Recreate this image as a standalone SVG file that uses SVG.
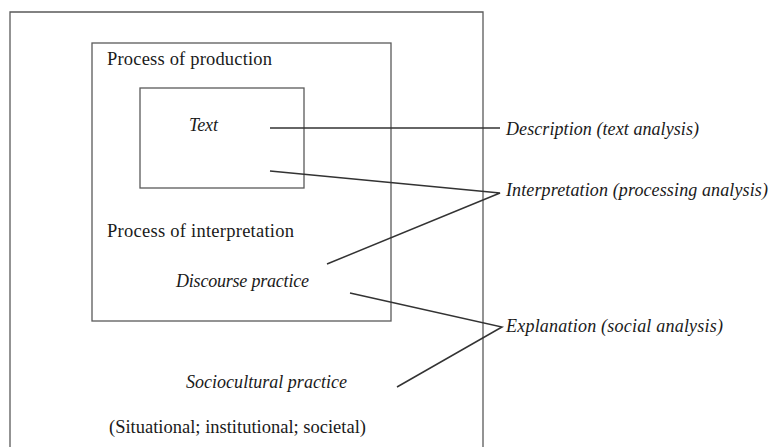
<svg xmlns="http://www.w3.org/2000/svg" width="769" height="447" viewBox="0 0 769 447">
<style>
.box{fill:none;stroke:#5a5a5a;stroke-width:1.3}
.t{font-family:"Liberation Serif","Times New Roman",serif;font-size:18.5px;fill:#1a1a1a}
.i{font-family:"Liberation Serif","Times New Roman",serif;font-size:18px;font-style:italic;fill:#1a1a1a}
.c{fill:none;stroke:#333;stroke-width:1.5}
</style>
<rect width="769" height="447" fill="#fff"/>
<g id="sociocultural">
<path class="box" d="M10,460 V12 H483 V460"/>
<text class="i" x="186" y="388" textLength="161">Sociocultural practice</text>
<text class="t" x="109" y="433" textLength="257">(Situational; institutional; societal)</text>
</g>
<g id="discourse">
<rect class="box" x="92" y="43" width="299" height="278"/>
<text class="t" x="107" y="65" textLength="165">Process of production</text>
<text class="t" x="107" y="237" textLength="187">Process of interpretation</text>
<text class="i" x="176" y="287" textLength="133">Discourse practice</text>
</g>
<g id="text">
<rect class="box" x="140" y="88" width="164" height="100"/>
<text class="i" x="189" y="131" textLength="29">Text</text>
</g>
<g id="description">
<text class="i" x="506" y="135" textLength="193">Description (text analysis)</text>
</g>
<g id="interpretation">
<text class="i" x="506" y="196" textLength="262">Interpretation (processing analysis)</text>
</g>
<g id="explanation">
<text class="i" x="506" y="332" textLength="217">Explanation (social analysis)</text>
</g>
<g id="connectors">
<line class="c" x1="270" y1="128" x2="500" y2="128" stroke-width="1.2"/>
<polyline class="c" points="270,171 500,193 327,264"/>
<polyline class="c" points="350,293 502,327 397,387"/>
</g>
</svg>
